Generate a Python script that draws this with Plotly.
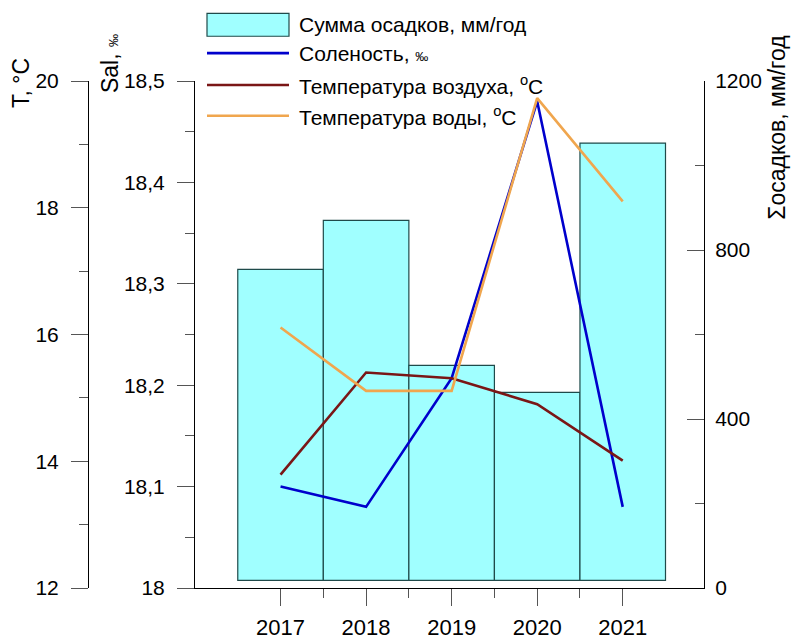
import plotly.graph_objects as go

# ---- data -------------------------------------------------------------
years = [2017, 2018, 2019, 2020, 2021]
precip = [754, 870, 527, 463, 1053]            # сумма осадков, мм/год
salinity = [18.10, 18.08, 18.207, 18.48, 18.08]  # соленость, ‰
t_air = [13.79, 15.40, 15.31, 14.90, 14.01]      # температура воздуха, °C
t_water = [16.11, 15.11, 15.11, 19.73, 18.10]    # температура воды, °C

t_ticks = [12, 14, 16, 18, 20]
t_minor = [13, 15, 17, 19]
sal_ticks = [18.0, 18.1, 18.2, 18.3, 18.4, 18.5]
sal_ticktext = ["18", "18,1", "18,2", "18,3", "18,4", "18,5"]
sal_minor = [18.05, 18.15, 18.25, 18.35, 18.45]
precip_ticks = [0, 400, 800, 1200]
precip_minor = [200, 600, 1000]
year_minor = [2017.5, 2018.5, 2019.5, 2020.5]

PERMILLE = '<span style="font-size:13px">‰</span>'
legend_labels = [
    "Сумма осадков, мм/год",
    "Соленость, " + PERMILLE,
    "Температура воздуха, <sup>o</sup>C",
    "Температура воды, <sup>o</sup>C",
]

# ---- styling ----------------------------------------------------------
W, H = 792, 640
TOP, BOTTOM = 81, 591
X_LEFT, X_RIGHT = 195, 704
T_AXIS_X = 88
BAR_BASE = 18  # columns rise from a small offset above the axis

FONT = "Liberation Sans"
CYAN = "#a0ffff"
EDGE = "#1f4a4a"
BLUE = "#0000cc"
RED = "#7a1616"
ORANGE = "#f0a64e"
TICK = "#555555"


def px_x(p):
    return p / W


def px_y(p):
    return (BOTTOM - p) / (BOTTOM - TOP)


fig = go.Figure()

fig.add_trace(go.Bar(
    x=years, y=[p - BAR_BASE for p in precip], base=BAR_BASE, width=1.0,
    marker=dict(color=CYAN, line=dict(color=EDGE, width=1.2)),
    yaxis="y", showlegend=False, name=legend_labels[0],
))
fig.add_trace(go.Scatter(
    x=years, y=salinity, mode="lines", line=dict(color=BLUE, width=2.6),
    yaxis="y2", showlegend=False, name="Соленость",
))
fig.add_trace(go.Scatter(
    x=years, y=t_air, mode="lines", line=dict(color=RED, width=2.6),
    yaxis="y3", showlegend=False, name="Температура воздуха",
))
fig.add_trace(go.Scatter(
    x=years, y=t_water, mode="lines", line=dict(color=ORANGE, width=2.6),
    yaxis="y3", showlegend=False, name="Температура воды",
))

axis_common = dict(
    showgrid=False, zeroline=False, showline=True, linecolor="black",
    linewidth=1, tickcolor=TICK, tickwidth=1,
    tickfont=dict(family=FONT, size=21, color="black"),
)

fig.update_layout(
    width=W, height=H,
    margin=dict(l=0, r=0, t=TOP, b=H - BOTTOM),
    paper_bgcolor="white", plot_bgcolor="white",
    font=dict(family=FONT, size=21, color="black"),
    xaxis=dict(
        domain=[px_x(X_LEFT), px_x(X_RIGHT)], range=[2016, 2021.95],
        tickvals=years, ticks="outside", ticklen=17,
        minor=dict(tickvals=year_minor, ticks="outside", ticklen=9,
                   tickcolor=TICK),
        ticklabelstandoff=3,
        **{**axis_common, "tickfont": dict(family=FONT, size=22, color="black")},
    ),
    yaxis=dict(
        side="right", anchor="x", range=[0, 1200],
        tickvals=precip_ticks, ticks="inside", ticklen=17,
        minor=dict(tickvals=precip_minor, ticks="inside", ticklen=9,
                   tickcolor=TICK),
        ticklabelstandoff=6,
        **axis_common,
    ),
    yaxis2=dict(
        overlaying="y", side="left", anchor="x", range=[18, 18.5],
        tickvals=sal_ticks, ticktext=sal_ticktext, ticks="outside", ticklen=17,
        minor=dict(tickvals=sal_minor, ticks="outside", ticklen=9,
                   tickcolor=TICK),
        ticklabelstandoff=8,
        **axis_common,
    ),
    yaxis3=dict(
        overlaying="y", side="left", anchor="free", position=px_x(T_AXIS_X),
        range=[12, 20],
        tickvals=t_ticks, ticks="outside", ticklen=17,
        minor=dict(tickvals=t_minor, ticks="outside", ticklen=9,
                   tickcolor=TICK),
        ticklabelstandoff=8,
        **axis_common,
    ),
    showlegend=False,
)

# ---- axis titles ------------------------------------------------------
titles = [
    ("T, °C", 21, 83),
    ("Sal, " + PERMILLE, 110, 64),
    ("Σосадков, мм/год", 777, 128),
]
for text, x, y in titles:
    fig.add_annotation(
        text=text, x=px_x(x), y=px_y(y), xref="paper", yref="paper",
        textangle=-90, showarrow=False, xanchor="center", yanchor="middle",
        font=dict(family=FONT, size=23, color="black"),
    )

# ---- legend -----------------------------------------------------------
LEG_X0, LEG_X1, LEG_TEXT = 207, 289, 297
rows = [24.5, 53, 85, 116]
fig.add_shape(
    type="rect", xref="paper", yref="paper",
    x0=px_x(LEG_X0), x1=px_x(LEG_X1), y0=px_y(36), y1=px_y(13),
    fillcolor=CYAN, line=dict(color=EDGE, width=1.2),
)
for color, row in zip([BLUE, RED, ORANGE], rows[1:]):
    fig.add_shape(
        type="line", xref="paper", yref="paper",
        x0=px_x(LEG_X0), x1=px_x(LEG_X1), y0=px_y(row), y1=px_y(row),
        line=dict(color=color, width=2.6),
    )
for label, row in zip(legend_labels, rows):
    fig.add_annotation(
        text=label, x=px_x(LEG_TEXT), y=px_y(row), xref="paper", yref="paper",
        showarrow=False, xanchor="left", yanchor="middle",
        font=dict(family=FONT, size=21, color="black"),
    )

fig.write_html("out.html")
